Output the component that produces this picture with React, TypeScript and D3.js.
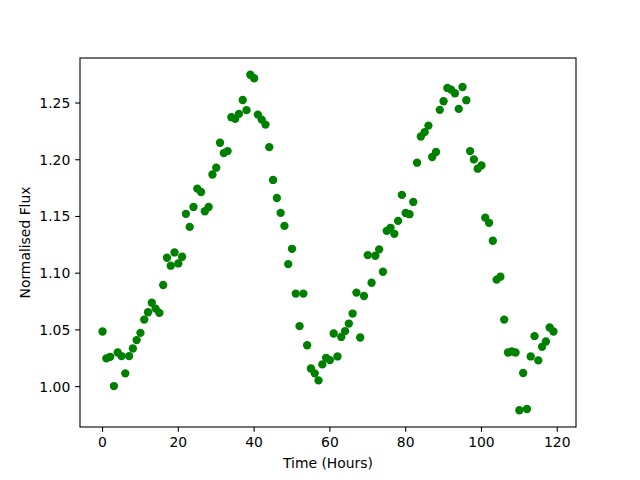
import React, { useEffect } from "react";
import * as d3 from "d3";

const hours: number[] = Array.from({ length: 120 }, (_, i) => i);
const flux: number[] = [
  1.0486, 1.0249, 1.0263, 1.0005, 1.0301, 1.0269, 1.0117, 1.0269, 1.0336, 1.041,
  1.0474, 1.0591, 1.0656, 1.074, 1.0688, 1.065, 1.0896, 1.1136, 1.1066, 1.1183,
  1.1086, 1.1145, 1.1523, 1.1408, 1.1584, 1.1745, 1.1716, 1.1546, 1.1584, 1.187,
  1.193, 1.215, 1.2059, 1.2076, 1.2375, 1.236, 1.2404, 1.2527, 1.2437, 1.2749,
  1.2718, 1.2398, 1.2354, 1.231, 1.2111, 1.1822, 1.1663, 1.1532, 1.1417, 1.108,
  1.1215, 1.082, 1.0533, 1.082, 1.0365, 1.016, 1.0117, 1.0055, 1.0196, 1.0254,
  1.0234, 1.0468, 1.0266, 1.0438, 1.0489, 1.0556, 1.0644, 1.0829, 1.0433, 1.0799,
  1.1159, 1.0916, 1.1154, 1.121, 1.1013, 1.1373, 1.14, 1.1347, 1.1461, 1.169,
  1.1531, 1.152, 1.1628, 1.1974, 1.2205, 1.2243, 1.2301, 1.2024, 1.2068, 1.244,
  1.2516, 1.2633, 1.2618, 1.2586, 1.2448, 1.2641, 1.2525, 1.2076, 1.2003, 1.1921,
  1.195, 1.149, 1.1444, 1.1286, 1.0943, 1.0969, 1.0591, 1.0301, 1.031, 1.0301,
  0.9792, 1.012, 0.9803, 1.0266, 1.0445, 1.0231, 1.0351, 1.0398, 1.0521, 1.0486,
];
const xTicks: number[] = [0, 20, 40, 60, 80, 100, 120];
const yTicks: number[] = [1.0, 1.05, 1.1, 1.15, 1.2, 1.25];

const W = 640, H = 480;
const L = 80, R = 576, T = 58, B = 427;
const FONT = "'DejaVu Sans', sans-serif";
const FS = 13.9;

export default function App() {
  useEffect(() => {
    document.body.style.margin = "0";
  }, []);
  const xMin = d3.min(hours)!, xMax = d3.max(hours)!;
  const yMin = d3.min(flux)!, yMax = d3.max(flux)!;
  const xPad = (xMax - xMin) * 0.05, yPad = (yMax - yMin) * 0.05;
  const x = d3.scaleLinear().domain([xMin - xPad, xMax + xPad]).range([L, R]);
  const y = d3.scaleLinear().domain([yMin - yPad, yMax + yPad]).range([B, T]);
  const tl = 4.86;
  return (
    <svg width={W} height={H} style={{ position: "absolute", left: 0, top: 0, background: "#fff" }} fontFamily={FONT}>
      <rect x={0} y={0} width={W} height={H} fill="#fff" />
      {hours.map((h, i) => (
        <circle key={i} cx={x(h)} cy={y(flux[i])} r={4.17} fill="#008000" />
      ))}
      <rect x={L} y={T} width={R - L} height={B - T} fill="none" stroke="#000" strokeWidth={1.1} />
      {xTicks.map((t) => (
        <g key={"x" + t}>
          <line x1={x(t)} x2={x(t)} y1={B} y2={B + tl} stroke="#000" strokeWidth={1.1} />
          <text x={x(t)} y={B + tl + 4.86 + 10.6} textAnchor="middle" fontSize={FS} fill="#000">
            {d3.format("d")(t)}
          </text>
        </g>
      ))}
      {yTicks.map((t) => (
        <g key={"y" + t}>
          <line x1={L - tl} x2={L} y1={y(t)} y2={y(t)} stroke="#000" strokeWidth={1.1} />
          <text x={L - tl - 4.86} y={y(t) + 5} textAnchor="end" fontSize={FS} fill="#000">
            {d3.format(".2f")(t)}
          </text>
        </g>
      ))}
      <text x={(L + R) / 2} y={468} textAnchor="middle" fontSize={FS} fill="#000">
        Time (Hours)
      </text>
      <text
        transform={`translate(30,${(T + B) / 2}) rotate(-90)`}
        textAnchor="middle"
        fontSize={FS}
        fill="#000"
      >
        Normalised Flux
      </text>
    </svg>
  );
}
